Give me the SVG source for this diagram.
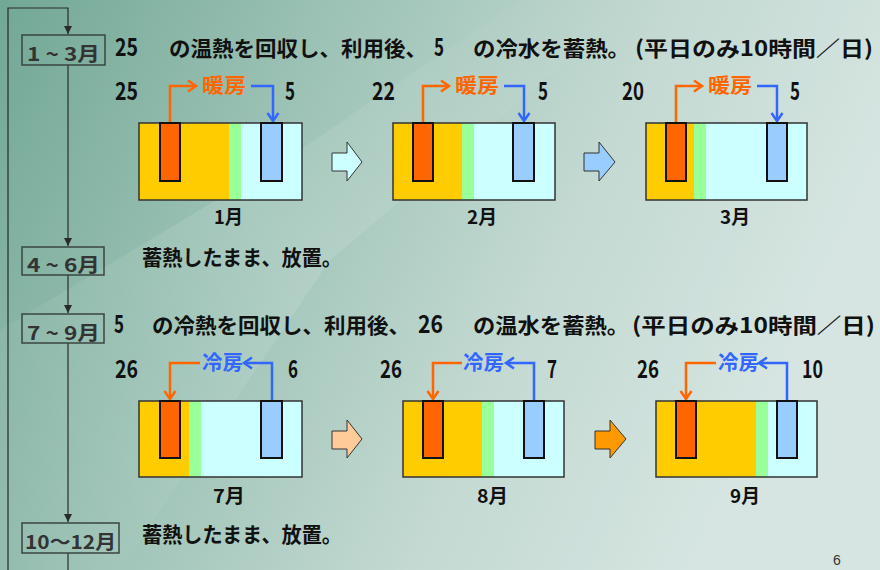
<svg xmlns="http://www.w3.org/2000/svg" width="880" height="570" viewBox="0 0 880 570">
<style>
.t{font-family:"Noto Sans CJK JP","Noto Sans",sans-serif;font-weight:700;fill:#111}
.h{font-size:21px}
.n{font-size:19px}
.d{font-size:24px}
.mb{fill:none;stroke:#3a4540;stroke-width:1.5}
.mt{font-family:"Noto Sans CJK JP","Noto Sans",sans-serif;font-weight:700;font-size:19px;fill:#333}
.flow{fill:none;stroke:#2a2a2a;stroke-width:1.2}
.tank{fill:none;stroke:#333;stroke-width:1.5}
.y{fill:#FFCC00}.g{fill:#99FF99}.c{fill:#CCFFFF}
.hot{fill:#FF6600;stroke:#111;stroke-width:2}
.cold{fill:#99CCFF;stroke:#111;stroke-width:2}
.or{fill:none;stroke:#FF6600;stroke-width:2.5}
.bl{fill:none;stroke:#3366FF;stroke-width:2.5}
.ba{stroke:#333;stroke-width:1}
.lo{font-family:"Noto Sans CJK JP","Noto Sans",sans-serif;font-weight:700;font-size:20px;fill:#FF6600}
.lb{font-family:"Noto Sans CJK JP","Noto Sans",sans-serif;font-weight:700;font-size:20px;fill:#3366FF}
</style>
<defs>
<linearGradient id="bg" x1="0" y1="0" x2="1" y2="0.3">
<stop offset="0" stop-color="#72a796"/>
<stop offset="0.35" stop-color="#9cc2b5"/>
<stop offset="0.7" stop-color="#c3d9d2"/>
<stop offset="1" stop-color="#d6e5e1"/>
</linearGradient>
<linearGradient id="streak" x1="0" y1="1" x2="1" y2="0">
<stop offset="0" stop-color="#ffffff" stop-opacity="0"/>
<stop offset="0.5" stop-color="#ffffff" stop-opacity="0.12"/>
<stop offset="1" stop-color="#ffffff" stop-opacity="0"/>
</linearGradient>
<marker id="fa" markerUnits="userSpaceOnUse" markerWidth="10" markerHeight="10" refX="8" refY="4" orient="auto">
<path d="M0,0 L8,4 L0,8 Z" fill="#2a2a2a"/>
</marker>
<marker id="ao" markerUnits="userSpaceOnUse" markerWidth="12" markerHeight="14" refX="9" refY="6.5" orient="auto">
<path d="M1,1 L9,6.5 L1,12" fill="none" stroke="#FF6600" stroke-width="2.5"/>
</marker>
<marker id="ab" markerUnits="userSpaceOnUse" markerWidth="12" markerHeight="14" refX="9" refY="6.5" orient="auto">
<path d="M1,1 L9,6.5 L1,12" fill="none" stroke="#3366FF" stroke-width="2.5"/>
</marker>
</defs>
<rect width="880" height="570" fill="url(#bg)"/>
<polygon points="0,330 300,150 520,0 640,0 330,260 120,570 0,570" fill="url(#streak)"/>

<g id="connectors">
<path class="flow" d="M8,570 V8 H68 V34" marker-end="url(#fa)"/>
<path class="flow" d="M68,65 V246" marker-end="url(#fa)"/>
<path class="flow" d="M68,275 V313" marker-end="url(#fa)"/>
<path class="flow" d="M68,343 V522" marker-end="url(#fa)"/>
<path class="flow" d="M68,553 V570"/>
<path class="or" d="M170,122 V86 H196" marker-end="url(#ao)"/>
<path class="bl" d="M251,86 H273 V121" marker-end="url(#ab)"/>
<path class="or" d="M423,122 V86 H449" marker-end="url(#ao)"/>
<path class="bl" d="M504,86 H524 V121" marker-end="url(#ab)"/>
<path class="or" d="M676,122 V86 H702" marker-end="url(#ao)"/>
<path class="bl" d="M757,86 H777 V121" marker-end="url(#ab)"/>
<path class="or" d="M200,363 H170 V399" marker-end="url(#ao)"/>
<path class="bl" d="M272,400 V363 H244" marker-end="url(#ab)"/>
<path class="or" d="M462,363 H433 V399" marker-end="url(#ao)"/>
<path class="bl" d="M534,400 V363 H506" marker-end="url(#ab)"/>
<path class="or" d="M716,363 H686 V399" marker-end="url(#ao)"/>
<path class="bl" d="M787,400 V363 H759" marker-end="url(#ab)"/>
</g>

<g id="box-jan-mar"><rect class="mb" x="22" y="35" width="83" height="30"/><text class="mt" x="27" y="61" textLength="73" lengthAdjust="spacingAndGlyphs">1 ~ 3月</text></g>
<g id="box-apr-jun"><rect class="mb" x="22" y="247" width="82" height="28"/><text class="mt" x="27" y="272" textLength="73" lengthAdjust="spacingAndGlyphs">4 ~ 6月</text></g>
<g id="box-jul-sep"><rect class="mb" x="22" y="314" width="82" height="29"/><text class="mt" x="27" y="340" textLength="73" lengthAdjust="spacingAndGlyphs">7 ~ 9月</text></g>
<g id="box-oct-dec"><rect class="mb" x="22" y="523" width="97" height="30"/><text class="mt" x="25" y="549" textLength="91" lengthAdjust="spacingAndGlyphs">10～12月</text></g>

<g id="line1">
<text class="t d" x="115" y="56" textLength="23" lengthAdjust="spacingAndGlyphs">25</text>
<text class="t h" x="169" y="56" textLength="258" lengthAdjust="spacingAndGlyphs">の温熱を回収し、利用後、</text>
<text class="t d" x="434" y="56" textLength="10" lengthAdjust="spacingAndGlyphs">5</text>
<text class="t h" x="473" y="56" textLength="157" lengthAdjust="spacingAndGlyphs">の冷水を蓄熱。</text>
<text class="t h" x="635" y="56" textLength="238" lengthAdjust="spacingAndGlyphs">(平日のみ10時間／日)</text>
</g>

<g id="tank-jan">
<rect class="y" x="139" y="123" width="90" height="77"/><rect class="g" x="229" y="123" width="12" height="77"/><rect class="c" x="241" y="123" width="61" height="77"/>
<rect class="tank" x="139" y="123" width="163" height="77"/>
<rect class="hot" x="160" y="123" width="20" height="58"/><rect class="cold" x="261" y="123" width="21" height="58"/>
<text class="t d" x="115" y="100" textLength="23" lengthAdjust="spacingAndGlyphs">25</text>
<text class="lo" x="202" y="93" textLength="44" lengthAdjust="spacingAndGlyphs">暖房</text>
<text class="t d" x="285" y="100" textLength="10" lengthAdjust="spacingAndGlyphs">5</text>
<text class="t n" x="214" y="224" textLength="29" lengthAdjust="spacingAndGlyphs">1月</text>
</g>
<g id="arrow-1"><polygon class="ba" fill="#CCFFFF" points="332,153 347,153 347,142 362,162 347,181 347,171 332,171"/></g>
<g id="tank-feb">
<rect class="y" x="393" y="123" width="69" height="77"/><rect class="g" x="462" y="123" width="12" height="77"/><rect class="c" x="474" y="123" width="81" height="77"/>
<rect class="tank" x="393" y="123" width="162" height="77"/>
<rect class="hot" x="413" y="123" width="20" height="58"/><rect class="cold" x="513" y="123" width="21" height="58"/>
<text class="t d" x="372" y="100" textLength="23" lengthAdjust="spacingAndGlyphs">22</text>
<text class="lo" x="455" y="93" textLength="44" lengthAdjust="spacingAndGlyphs">暖房</text>
<text class="t d" x="538" y="100" textLength="10" lengthAdjust="spacingAndGlyphs">5</text>
<text class="t n" x="467" y="224" textLength="30" lengthAdjust="spacingAndGlyphs">2月</text>
</g>
<g id="arrow-2"><polygon class="ba" fill="#99CCFF" points="584,153 599,153 599,142 615,162 599,181 599,171 584,171"/></g>
<g id="tank-mar">
<rect class="y" x="646" y="123" width="48" height="77"/><rect class="g" x="694" y="123" width="12" height="77"/><rect class="c" x="706" y="123" width="101" height="77"/>
<rect class="tank" x="646" y="123" width="161" height="77"/>
<rect class="hot" x="666" y="123" width="20" height="58"/><rect class="cold" x="767" y="123" width="20" height="58"/>
<text class="t d" x="622" y="100" textLength="22" lengthAdjust="spacingAndGlyphs">20</text>
<text class="lo" x="708" y="93" textLength="44" lengthAdjust="spacingAndGlyphs">暖房</text>
<text class="t d" x="790" y="100" textLength="10" lengthAdjust="spacingAndGlyphs">5</text>
<text class="t n" x="720" y="224" textLength="30" lengthAdjust="spacingAndGlyphs">3月</text>
</g>

<g id="line2"><text class="t h" x="142" y="265" textLength="200" lengthAdjust="spacingAndGlyphs">蓄熱したまま、放置。</text></g>

<g id="line3">
<text class="t d" x="114" y="333" textLength="10" lengthAdjust="spacingAndGlyphs">5</text>
<text class="t h" x="152" y="333" textLength="258" lengthAdjust="spacingAndGlyphs">の冷熱を回収し、利用後、</text>
<text class="t d" x="418" y="333" textLength="25" lengthAdjust="spacingAndGlyphs">26</text>
<text class="t h" x="473" y="333" textLength="156" lengthAdjust="spacingAndGlyphs">の温水を蓄熱。</text>
<text class="t h" x="632" y="333" textLength="243" lengthAdjust="spacingAndGlyphs">(平日のみ10時間／日)</text>
</g>

<g id="tank-jul">
<rect class="y" x="139" y="401" width="50" height="76"/><rect class="g" x="189" y="401" width="12" height="76"/><rect class="c" x="201" y="401" width="101" height="76"/>
<rect class="tank" x="139" y="401" width="163" height="76"/>
<rect class="hot" x="160" y="401" width="20" height="57"/><rect class="cold" x="261" y="401" width="21" height="57"/>
<text class="t d" x="115" y="378" textLength="23" lengthAdjust="spacingAndGlyphs">26</text>
<text class="lb" x="202" y="370" textLength="41" lengthAdjust="spacingAndGlyphs">冷房</text>
<text class="t d" x="288" y="378" textLength="10" lengthAdjust="spacingAndGlyphs">6</text>
<text class="t n" x="213" y="503" textLength="32" lengthAdjust="spacingAndGlyphs">7月</text>
</g>
<g id="arrow-3"><polygon class="ba" fill="#FFCC99" points="332,431 347,431 347,420 362,439 347,458 347,449 332,449"/></g>
<g id="tank-aug">
<rect class="y" x="403" y="401" width="79" height="76"/><rect class="g" x="482" y="401" width="12" height="76"/><rect class="c" x="494" y="401" width="70" height="76"/>
<rect class="tank" x="403" y="401" width="161" height="76"/>
<rect class="hot" x="423" y="401" width="20" height="57"/><rect class="cold" x="524" y="401" width="20" height="57"/>
<text class="t d" x="380" y="378" textLength="22" lengthAdjust="spacingAndGlyphs">26</text>
<text class="lb" x="463" y="370" textLength="41" lengthAdjust="spacingAndGlyphs">冷房</text>
<text class="t d" x="547" y="378" textLength="10" lengthAdjust="spacingAndGlyphs">7</text>
<text class="t n" x="477" y="503" textLength="31" lengthAdjust="spacingAndGlyphs">8月</text>
</g>
<g id="arrow-4"><polygon class="ba" fill="#FF9900" points="595,431 610,431 610,420 626,439 610,458 610,449 595,449"/></g>
<g id="tank-sep">
<rect class="y" x="656" y="401" width="100" height="76"/><rect class="g" x="756" y="401" width="12" height="76"/><rect class="c" x="768" y="401" width="49" height="76"/>
<rect class="tank" x="656" y="401" width="161" height="76"/>
<rect class="hot" x="676" y="401" width="20" height="57"/><rect class="cold" x="777" y="401" width="20" height="57"/>
<text class="t d" x="637" y="378" textLength="22" lengthAdjust="spacingAndGlyphs">26</text>
<text class="lb" x="718" y="370" textLength="41" lengthAdjust="spacingAndGlyphs">冷房</text>
<text class="t d" x="802" y="378" textLength="21" lengthAdjust="spacingAndGlyphs">10</text>
<text class="t n" x="730" y="503" textLength="30" lengthAdjust="spacingAndGlyphs">9月</text>
</g>

<g id="line4"><text class="t h" x="142" y="542" textLength="200" lengthAdjust="spacingAndGlyphs">蓄熱したまま、放置。</text></g>
<g id="page"><text x="833" y="565" font-family="Liberation Sans, sans-serif" font-size="14" fill="#333">6</text></g>
</svg>
